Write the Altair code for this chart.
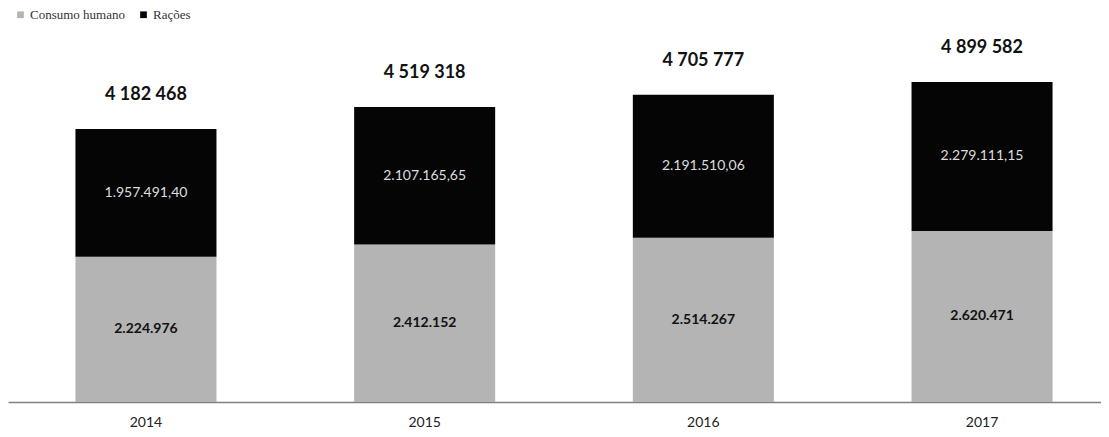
import altair as alt
import pandas as pd

years = ["2014", "2015", "2016", "2017"]
series = ["Consumo humano", "Rações"]
consumo = [2224976, 2412152, 2514267, 2620471]
racoes = [1957491.40, 2107165.65, 2191510.06, 2279111.15]
consumo_labels = ["2.224.976", "2.412.152", "2.514.267", "2.620.471"]
racoes_labels = ["1.957.491,40", "2.107.165,65", "2.191.510,06", "2.279.111,15"]
total_labels = ["4 182 468", "4 519 318", "4 705 777", "4 899 582"]
colors = ["#b4b4b4", "#050505"]

rows = []
for i, y in enumerate(years):
    rows.append({"year": y, "serie": series[0], "value": consumo[i], "label": consumo_labels[i], "ord": 0})
    rows.append({"year": y, "serie": series[1], "value": racoes[i], "label": racoes_labels[i], "ord": 1})
df = pd.DataFrame(rows)

df_tot = pd.DataFrame({
    "year": years,
    "total": [c + r for c, r in zip(consumo, racoes)],
    "label": total_labels,
})

FONT = "Lato"

xenc = alt.X(
    "year:N",
    sort=years,
    scale=alt.Scale(domain=years, range=[0, 1112], paddingInner=0.494, paddingOuter=0.242),
    axis=alt.Axis(
        title=None, labelAngle=0, ticks=False, domainColor="#808080", domainWidth=1.5,
        labelFont=FONT, labelFontSize=14, labelColor="#222222", labelPadding=13,
    ),
)
yscale = alt.Scale(domain=[0, 5881000], nice=False, zero=True)

bars = alt.Chart(df).mark_bar().encode(
    x=xenc,
    y=alt.Y("value:Q", stack="zero", scale=yscale, axis=None),
    color=alt.Color(
        "serie:N",
        scale=alt.Scale(domain=series, range=colors),
        legend=alt.Legend(
            title=None, orient="none", legendX=6, legendY=-10, direction="horizontal",
            symbolType="square", symbolSize=45, symbolStrokeWidth=0,
            labelFont="Liberation Serif", labelFontSize=13, labelColor="#333333",
            labelOffset=3, padding=0,
        ),
    ),
    order=alt.Order("ord:Q", sort="ascending"),
)

base_txt = alt.Chart(df).transform_stack(
    stack="value", groupby=["year"], sort=[alt.SortField("ord", "ascending")], as_=["v0", "v1"]
).transform_calculate(mid="(datum.v0 + datum.v1) / 2")

txt_gray = base_txt.transform_filter(alt.datum.ord == 0).mark_text(
    font=FONT, fontSize=14, fontWeight="bold", color="#111111", baseline="middle"
).encode(x=alt.X("year:N", sort=years), y=alt.Y("mid:Q", scale=yscale), text="label:N")

txt_black = base_txt.transform_filter(alt.datum.ord == 1).mark_text(
    font=FONT, fontSize=14, color="#dddddd", baseline="middle"
).encode(x=alt.X("year:N", sort=years), y=alt.Y("mid:Q", scale=yscale), text="label:N")

txt_tot = alt.Chart(df_tot).mark_text(
    font=FONT, fontSize=18, fontWeight="bold", color="#111111", baseline="middle", dy=-34
).encode(x=alt.X("year:N", sort=years), y=alt.Y("total:Q", scale=yscale), text="label:N")

chart = alt.layer(bars, txt_gray, txt_black, txt_tot).properties(
    width=1093, height=384,
    autosize=alt.AutoSizeParams(type="none"),
    padding={"left": 0, "top": 10, "right": 0, "bottom": 27},
    background="white",
).configure_view(stroke=None).configure_legend(columnPadding=12)

chart.save("out.html", embed_options={"renderer": "svg", "actions": False})
